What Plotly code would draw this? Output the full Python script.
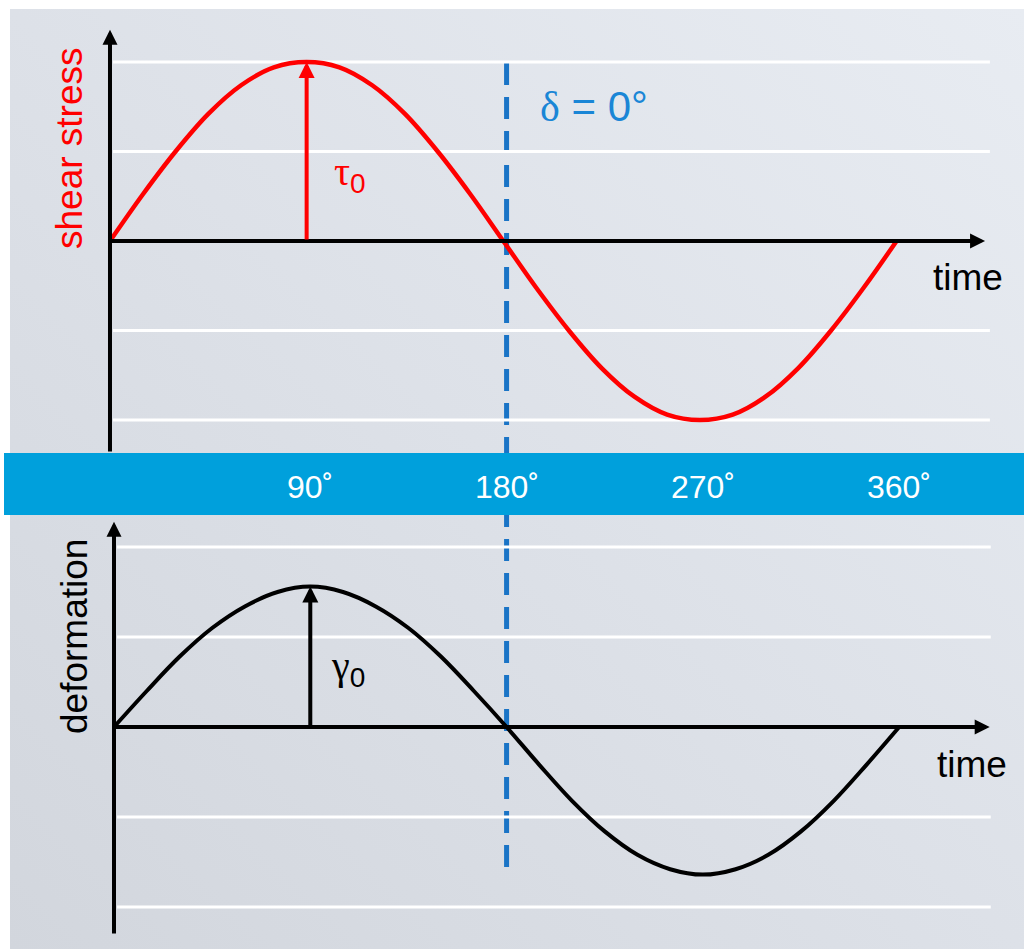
import base64
import plotly.graph_objects as go

W, H = 1024, 949

# ---------------- data ----------------
phase_deg = [0, 15, 30, 45, 60, 75, 90, 105, 120, 135, 150, 165, 180,
             195, 210, 225, 240, 255, 270, 285, 300, 315, 330, 345, 360]
shear_stress = [0.0, 0.26, 0.5, 0.71, 0.87, 0.97, 1.0, 0.97, 0.87, 0.71, 0.5, 0.26, 0.0,
                -0.26, -0.5, -0.71, -0.87, -0.97, -1.0, -0.97, -0.87, -0.71, -0.5, -0.26, 0.0]
deformation = [0.0, 0.2, 0.39, 0.55, 0.67, 0.75, 0.78, 0.75, 0.67, 0.55, 0.39, 0.2, 0.0,
               -0.21, -0.41, -0.58, -0.71, -0.79, -0.82, -0.79, -0.71, -0.58, -0.41, -0.21, 0.0]
tick_deg = [90, 180, 270, 360]
tick_labels = ["90˚", "180˚", "270˚", "360˚"]
grid_levels = [-1.0, -0.5, 0.5, 1.0]
tau0 = 1.0
gamma0 = 0.78
delta_deg = 0
phase_line_deg = 180 + delta_deg


def px(x):
    return x / W


def py(y):
    return 1 - y / H


FONT = "Liberation Sans, Arial, Helvetica, sans-serif"
NARROW = "Liberation Sans Narrow, Arial Narrow, Liberation Sans, Arial, sans-serif"
GREEK = "font-family:'Liberation Serif', 'Times New Roman', serif"

fig = go.Figure()

fig.add_trace(go.Scatter(x=phase_deg, y=shear_stress, mode="lines",
                         line=dict(color="#ff0000", width=4.5, shape="spline", smoothing=1.0),
                         xaxis="x", yaxis="y", hoverinfo="skip", showlegend=False))
fig.add_trace(go.Scatter(x=phase_deg, y=deformation, mode="lines",
                         line=dict(color="#000000", width=4, shape="spline", smoothing=1.0),
                         xaxis="x2", yaxis="y2", hoverinfo="skip", showlegend=False))

shapes = []
# gridlines
for g in grid_levels:
    shapes.append(dict(type="line", xref="x", yref="y", x0=1.4, x1=402.7, y0=g, y1=g,
                       line=dict(color="white", width=3), layer="below"))
    shapes.append(dict(type="line", xref="x2", yref="y2", x0=1.4, x1=402.0, y0=g, y1=g,
                       line=dict(color="white", width=3), layer="below"))
# phase line
shapes.append(dict(type="line", xref="x2", yref="paper", x0=phase_line_deg, x1=phase_line_deg,
                   y0=py(867), y1=py(62),
                   line=dict(color="#1a74c6", width=5, dash="22px,12px"), layer="below"))
# blue band
shapes.append(dict(type="rect", xref="paper", yref="paper", x0=px(4), x1=1.0,
                   y0=py(515), y1=py(453), fillcolor="#00a0dc", line=dict(width=0),
                   layer="above"))

ann = []


def arrow(x, y, ax, ay, xr, yr, color, width, size):
    ann.append(dict(x=x, y=y, ax=ax, ay=ay, xref=xr, yref=yr, axref=xr, ayref=yr,
                    text="", showarrow=True, arrowhead=2, arrowwidth=width,
                    arrowsize=size, arrowcolor=color, standoff=0, startstandoff=0))


# axes (top)
arrow(0, 1.18, 0, -1.184, "x", "y", "black", 4, 0.75)
arrow(400.5, 0, 0, 0, "x", "y", "black", 4, 0.75)
# axes (bottom)
arrow(0, 1.14, 0, -1.156, "x2", "y2", "black", 4, 0.75)
arrow(401.5, 0, 0, 0, "x2", "y2", "black", 4, 0.75)
# amplitude arrows
arrow(90, tau0, 90, 0, "x", "y", "#ff0000", 4, 0.8)
arrow(90, gamma0, 90, 0, "x2", "y2", "black", 4, 0.8)


def label(text, x, y, size, color, family=FONT, angle=0, xref="paper", yref="paper"):
    ann.append(dict(text=text, x=x, y=y, xref=xref, yref=yref, showarrow=False,
                    textangle=angle, xanchor="center", yanchor="middle",
                    font=dict(size=size, color=color, family=family)))


label("shear stress", px(70), py(148), 37, "#ff0000", angle=-90)
label("deformation", px(74), py(637), 37, "#000000", angle=-90)
label("time", px(968), py(277), 37, "#000000")
label("time", px(972), py(764), 37, "#000000")
label(f'<span style="{GREEK}">δ</span> = 0°', px(594), py(107), 42, "#1a86d6")
label(f'<span style="{GREEK}">τ</span><sub>0</sub>', px(350), py(174), 40, "#ff0000")
label(f'<span style="{GREEK}">γ</span><sub>0</sub>', px(348), py(668), 40, "#000000")
for d, t in zip(tick_deg, tick_labels):
    label(t, d, py(487), 32, "white", family=NARROW, xref="x2")

svg = ('<svg xmlns="http://www.w3.org/2000/svg" width="100" height="100" '
       'preserveAspectRatio="none"><defs><linearGradient id="g" x1="0" y1="1" x2="1" y2="0">'
       '<stop offset="0" stop-color="#d2d6dd"/><stop offset="0.5" stop-color="#dde1e8"/>'
       '<stop offset="1" stop-color="#e8ecf2"/></linearGradient></defs>'
       '<rect width="100" height="100" fill="url(#g)"/></svg>')
bg_src = "data:image/svg+xml;base64," + base64.b64encode(svg.encode()).decode()

fig.update_layout(
    width=W, height=H, autosize=False,
    margin=dict(l=0, r=0, t=0, b=0, pad=0),
    paper_bgcolor="white", plot_bgcolor="rgba(0,0,0,0)",
    showlegend=False,
    xaxis=dict(domain=[0, 1], range=[-50.34, 418.31], visible=False, anchor="y", fixedrange=True),
    yaxis=dict(domain=[py(453), 1], range=[-1.1844, 1.3464], visible=False, anchor="x", fixedrange=True),
    xaxis2=dict(domain=[0, 1], range=[-52.27, 417.24], visible=False, anchor="y2", fixedrange=True),
    yaxis2=dict(domain=[0, py(515)], range=[-1.2333, 1.1778], visible=False, anchor="x2", fixedrange=True),
    shapes=shapes,
    annotations=ann,
    images=[dict(source=bg_src, xref="paper", yref="paper", x=px(10), y=py(9),
                 sizex=1 - px(10), sizey=1 - 9 / H, xanchor="left", yanchor="top",
                 sizing="stretch", layer="below")],
)

fig.write_html("out.html", config={"displayModeBar": False, "staticPlot": True})
